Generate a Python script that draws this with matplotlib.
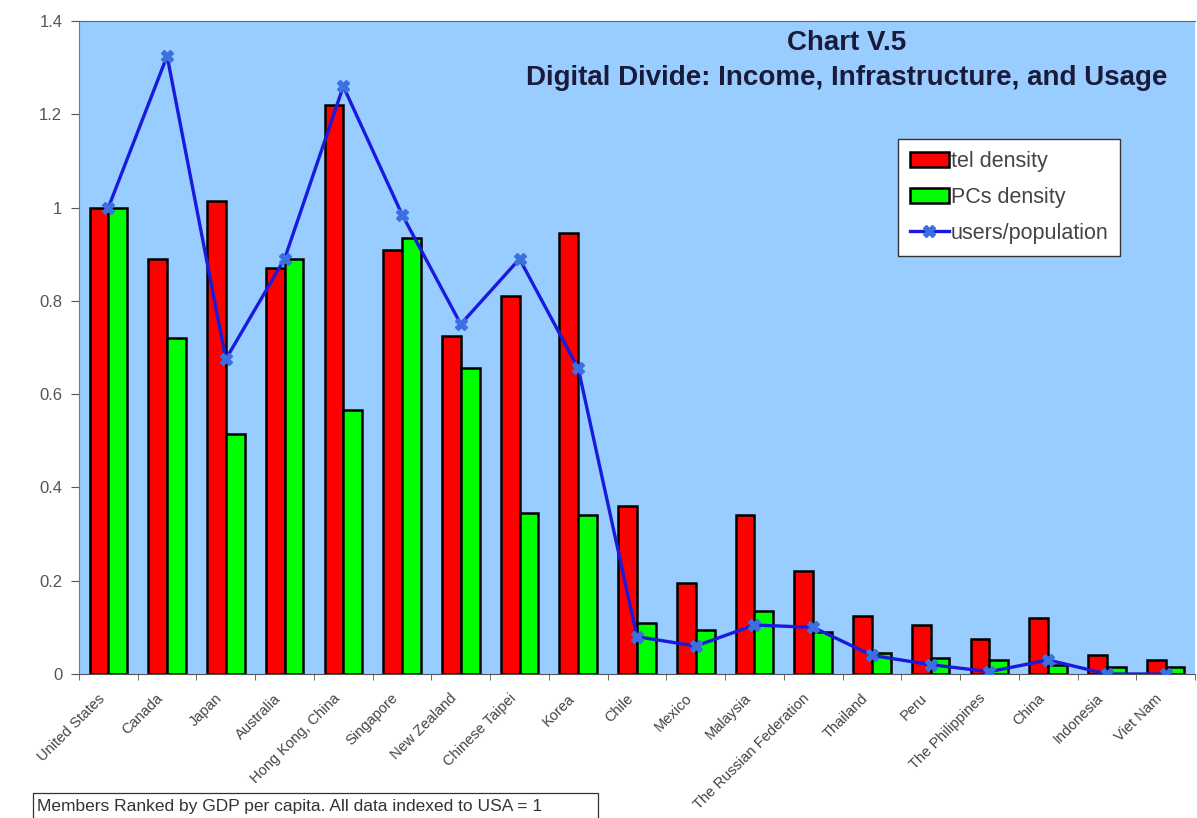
import matplotlib.pyplot as plt
import matplotlib.patches as mpatches
import matplotlib.transforms as mtransforms
import numpy as np

plt.rcParams['font.family'] = ['Liberation Sans', 'DejaVu Sans']

countries = ['United States', 'Canada', 'Japan', 'Australia', 'Hong Kong, China',
             'Singapore', 'New Zealand', 'Chinese Taipei', 'Korea', 'Chile',
             'Mexico', 'Malaysia', 'The Russian Federation', 'Thailand', 'Peru',
             'The Philippines', 'China', 'Indonesia', 'Viet Nam']
tel_density = [1.0, 0.89, 1.015, 0.87, 1.22, 0.91, 0.725, 0.81, 0.945, 0.36,
               0.195, 0.34, 0.22, 0.125, 0.105, 0.075, 0.12, 0.04, 0.03]
pc_density = [1.0, 0.72, 0.515, 0.89, 0.565, 0.935, 0.655, 0.345, 0.34, 0.11,
              0.095, 0.135, 0.09, 0.045, 0.035, 0.03, 0.02, 0.015, 0.015]
users_pop = [1.0, 1.325, 0.675, 0.89, 1.26, 0.985, 0.75, 0.89, 0.655, 0.08,
             0.06, 0.105, 0.10, 0.04, 0.02, 0.005, 0.03, 0.0, 0.0]
y_ticks = [0, 0.2, 0.4, 0.6, 0.8, 1, 1.2, 1.4]
y_labels = ['0', '0.2', '0.4', '0.6', '0.8', '1', '1.2', '1.4']

fig = plt.figure(figsize=(11.97, 8.18), dpi=100)
ax = fig.add_axes([79 / 1197, 144 / 818, 1116 / 1197, 653 / 818])
ax.set_facecolor('#99ccff')

x = np.arange(len(countries))
w = 0.32
b1 = ax.bar(x - w / 2, tel_density, w, color='#ff0000', edgecolor='black',
            linewidth=1.8, zorder=2)
b2 = ax.bar(x + w / 2, pc_density, w, color='#00ff00', edgecolor='black',
            linewidth=1.8, zorder=2)
ln, = ax.plot(x, users_pop, color='#1a1adc', linewidth=2.4, marker='X',
              markersize=8, markerfacecolor='#3c6fe0', markeredgecolor='#3c6fe0',
              zorder=3)

ax.set_xlim(-0.5, len(countries) - 0.5)
ax.set_ylim(0, 1.4)
ax.set_yticks(y_ticks)
ax.set_yticklabels(y_labels, fontsize=12, color='#555555')
ax.set_xticks(x)
ax.set_xticklabels(countries, rotation=45, ha='right', va='center',
                   rotation_mode='anchor', fontsize=10.5, color='#444444')
ax.tick_params(axis='x', length=0, pad=16)
shift = mtransforms.ScaledTranslation(-6 / 100, 0, fig.dpi_scale_trans)
for lab in ax.get_xticklabels():
    lab.set_transform(lab.get_transform() + shift)
ax.set_xticks(np.arange(-0.5, len(countries)), minor=True)
ax.tick_params(axis='x', which='minor', length=4, color='#555555')
ax.tick_params(axis='y', length=6, color='#555555', pad=6)

ax.spines['top'].set_color('#666666')
ax.spines['right'].set_visible(False)
ax.spines['left'].set_color('#777777')
ax.spines['bottom'].set_color('#555555')

ax.text(0.688, 0.966, 'Chart V.5', transform=ax.transAxes, ha='center',
        va='center', fontsize=20, fontweight='bold', color='#1a1a3a')
ax.text(0.688, 0.913, 'Digital Divide: Income, Infrastructure, and Usage',
        transform=ax.transAxes, ha='center', va='center',
        fontsize=20, fontweight='bold', color='#1a1a3a')

leg = ax.legend([b1, b2, ln], ['tel density', 'PCs density', 'users/population'],
                loc='upper left', bbox_to_anchor=((898 - 79) / 1116, (674 - 139) / 653),
                fontsize=15.5, frameon=True, fancybox=False, framealpha=1,
                edgecolor='#333333', handlelength=1.8, handletextpad=0.1,
                labelspacing=0.7, borderpad=0.55, borderaxespad=0)
leg.get_frame().set_linewidth(1.0)
for t in leg.get_texts():
    t.set_color('#444444')

fig.patches.append(mpatches.Rectangle((33 / 1197, 1 - 822 / 818), 565 / 1197,
                                      29 / 818, transform=fig.transFigure,
                                      facecolor='white', edgecolor='#333333',
                                      linewidth=0.9))
fig.text(37 / 1197, 1 - 807 / 818,
         'Members Ranked by GDP per capita. All data indexed to USA = 1',
         ha='left', va='center', fontsize=12.5, color='#333333')

fig.savefig('out.png', dpi=100)
